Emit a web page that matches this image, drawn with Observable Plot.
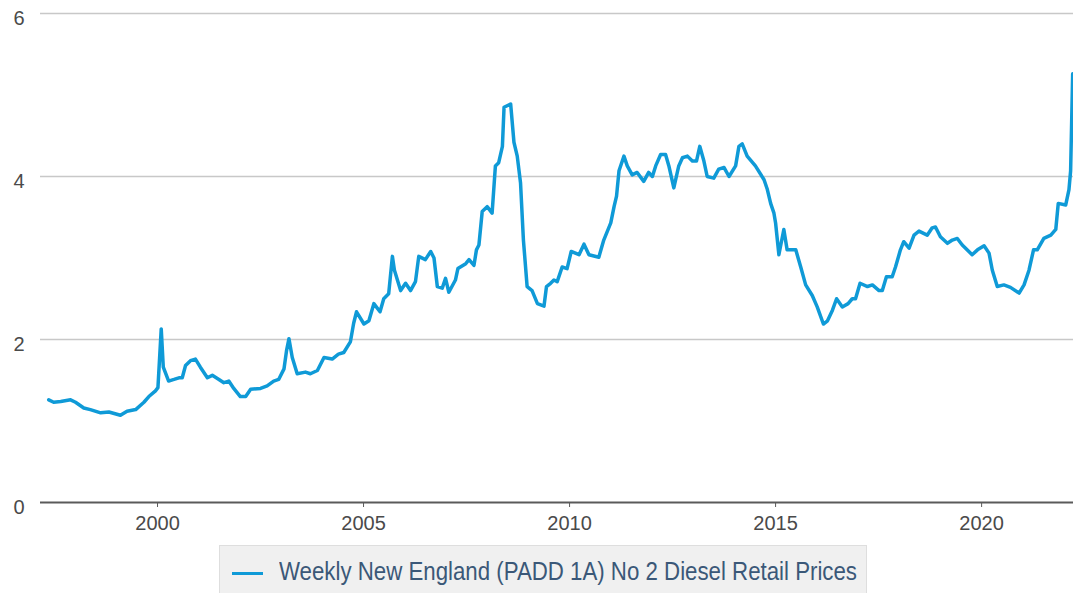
<!DOCTYPE html>
<html>
<head>
<meta charset="utf-8">
<script src="https://cdn.jsdelivr.net/npm/d3@7"></script>
<script src="https://cdn.jsdelivr.net/npm/@observablehq/plot@0.6"></script>
<style>
  html, body { margin: 0; padding: 0; background: #fff; overflow: hidden; }
  #chart { width: 1073px; }
  #legend {
    position: absolute; left: 219px; top: 545px; width: 648px; height: 60px;
    background: #f0f0f0; border: 1px solid #dedede; box-sizing: border-box;
  }
  #legend .sw { position: absolute; left: 12px; top: 26px; width: 31px; height: 3px; background: #0f9ad7; }
  #legend .lbl {
    position: absolute; left: 59px; top: 11px; color: #3b5878;
    font-size: 25px; white-space: nowrap; transform-origin: 0 50%;
  }
</style>
</head>
<body>
<div id="chart"></div>
<div id="legend"><div class="sw"></div><div class="lbl" id="lbl"></div></div>
<script>
const seriesName = "Weekly New England (PADD 1A) No 2 Diesel Retail Prices";
const years = [
  1997.36,1997.48,1997.65,1997.89,1998.01,1998.21,1998.37,1998.62,1998.82,1999.10,1999.26,1999.47,1999.67,1999.79,1999.95,
  2000.01,2000.09,2000.14,2000.27,2000.40,2000.52,2000.60,2000.68,2000.80,2000.92,2001.04,2001.21,2001.33,2001.49,2001.61,
  2001.73,2001.85,2002.01,2002.14,2002.26,2002.50,2002.66,2002.82,2002.94,2003.07,2003.13,2003.19,2003.27,2003.39,2003.59,
  2003.71,2003.88,2004.04,2004.24,2004.39,2004.52,2004.68,2004.76,2004.83,
  2005.01,2005.13,2005.25,2005.40,2005.49,2005.61,2005.70,2005.75,2005.90,2006.02,2006.14,2006.26,2006.34,2006.50,2006.63,
  2006.71,2006.79,2006.91,2006.99,2007.07,2007.23,2007.29,2007.48,2007.56,2007.68,2007.74,2007.80,2007.88,2008.00,2008.12,
  2008.20,2008.28,2008.37,2008.41,2008.57,2008.65,2008.73,2008.81,2008.88,2008.97,2009.09,2009.22,2009.38,2009.44,2009.54,
  2009.62,2009.70,2009.82,2009.94,2010.04,2010.23,2010.35,2010.47,2010.71,
  2010.83,2011.00,2011.08,2011.14,2011.20,2011.32,2011.40,2011.52,2011.64,2011.80,2011.92,2012.01,2012.09,2012.21,2012.33,
  2012.41,2012.53,2012.65,2012.74,2012.86,2012.98,2013.08,2013.16,2013.26,2013.34,2013.50,2013.62,2013.75,2013.87,2014.03,
  2014.11,2014.19,2014.31,2014.51,2014.72,
  2014.80,2014.88,2014.96,2015.00,2015.08,2015.20,2015.28,2015.49,2015.61,2015.73,2015.89,2016.01,2016.16,2016.26,2016.38,
  2016.48,2016.62,2016.76,2016.86,2016.94,2017.05,2017.23,2017.35,2017.51,2017.59,2017.69,2017.83,2017.91,2018.03,2018.11,
  2018.24,2018.36,2018.48,2018.68,2018.80,2018.88,2019.00,2019.17,2019.29,2019.41,2019.53,2019.69,2019.77,2019.90,2020.06,
  2020.18,2020.26,2020.38,2020.54,2020.70,2020.91,2021.03,2021.15,2021.26,2021.35,2021.51,2021.68,2021.80,2021.86,2022.04,
  2022.12,2022.16,2022.21
];
const prices = [
  1.26,1.23,1.24,1.26,1.23,1.16,1.14,1.10,1.11,1.07,1.12,1.14,1.23,1.30,1.37,
  1.41,2.13,1.66,1.49,1.51,1.53,1.53,1.68,1.74,1.76,1.66,1.53,1.56,1.51,1.47,
  1.49,1.40,1.30,1.30,1.39,1.40,1.43,1.49,1.51,1.64,1.86,2.01,1.78,1.58,1.60,
  1.58,1.62,1.78,1.76,1.82,1.84,1.97,2.20,2.34,
  2.19,2.23,2.44,2.34,2.50,2.56,3.02,2.85,2.60,2.69,2.60,2.71,3.02,2.98,3.08,
  3.00,2.65,2.63,2.75,2.58,2.73,2.87,2.93,2.98,2.91,3.10,3.16,3.57,3.63,3.55,
  4.13,4.17,4.37,4.85,4.89,4.42,4.25,3.92,3.22,2.65,2.60,2.44,2.41,2.65,2.69,
  2.73,2.71,2.89,2.87,3.08,3.04,3.17,3.04,3.01,
  3.22,3.43,3.63,3.76,4.07,4.25,4.13,4.02,4.05,3.94,4.05,4.00,4.13,4.27,4.27,
  4.13,3.86,4.13,4.23,4.25,4.19,4.19,4.37,4.19,4.00,3.98,4.09,4.11,4.00,4.13,
  4.37,4.40,4.25,4.13,3.96,
  3.84,3.67,3.55,3.43,3.04,3.35,3.10,3.10,2.89,2.67,2.54,2.40,2.19,2.23,2.36,
  2.50,2.40,2.44,2.50,2.50,2.69,2.65,2.67,2.60,2.60,2.77,2.77,2.89,3.10,3.20,
  3.12,3.28,3.33,3.28,3.37,3.38,3.26,3.18,3.22,3.24,3.16,3.08,3.04,3.10,3.15,
  3.06,2.85,2.65,2.67,2.64,2.57,2.67,2.85,3.10,3.10,3.24,3.28,3.35,3.67,3.65,
  3.84,4.07,5.26
];
const xTicks = [2000, 2005, 2010, 2015, 2020];
const yTicks = [0, 2, 4, 6];

function hasFont(name) {
  const ctx = document.createElement("canvas").getContext("2d");
  const t = "abcdefghijklmnopqrstuvwxyzWMW0123456789";
  for (const base of ["monospace", "serif"]) {
    ctx.font = `72px ${base}`;
    const w0 = ctx.measureText(t).width;
    ctx.font = `72px "${name}", ${base}`;
    if (Math.abs(ctx.measureText(t).width - w0) > 0.5) return true;
  }
  return false;
}
const sansFont = ["Liberation Sans", "Arimo", "Arial", "Helvetica", "Roboto", "Noto Sans"].find(hasFont) || "sans-serif";
const fontStack = `"${sansFont}", sans-serif`;

const data = years.map((y, i) => ({year: y, price: prices[i], series: seriesName}));

const chart = Plot.plot({
  width: 1073,
  height: 540,
  marginLeft: 40,
  marginRight: 0,
  marginTop: 13,
  marginBottom: 38,
  style: {fontFamily: fontStack, fontSize: "20px", color: "#4a4a4a", background: "#fff"},
  x: {domain: [1997.16, 2022.23], label: null},
  y: {domain: [0, 6], label: null},
  marks: [
    Plot.gridY(yTicks.filter(d => d > 0), {stroke: "#c8c8c8", strokeOpacity: 1, strokeWidth: 1.5}),
    Plot.ruleY([0], {stroke: "#5a5a5a", strokeWidth: 2}),
    Plot.axisY({ticks: yTicks, tickFormat: d => String(d), tickSize: 0, tickPadding: 16, dy: 5, fill: "#4a4a4a", fontSize: 20, label: null}),
    Plot.axisX({ticks: xTicks, tickFormat: d => String(d), tickSize: 5, tickPadding: 8, stroke: "#5a5a5a", fill: "#4a4a4a", fontSize: 20, label: null}),
    Plot.line(data, {x: "year", y: "price", stroke: "#0f9ad7", strokeWidth: 3.5, strokeLinejoin: "round", curve: "linear"})
  ]
});
chart.querySelectorAll("text").forEach(t => t.style.fontFamily = fontStack);
document.getElementById("chart").appendChild(chart);

const lbl = document.getElementById("lbl");
lbl.textContent = seriesName;
lbl.style.fontFamily = fontStack;
const w = lbl.getBoundingClientRect().width;
lbl.style.transform = `scaleX(${578 / w})`;
</script>
</body>
</html>
